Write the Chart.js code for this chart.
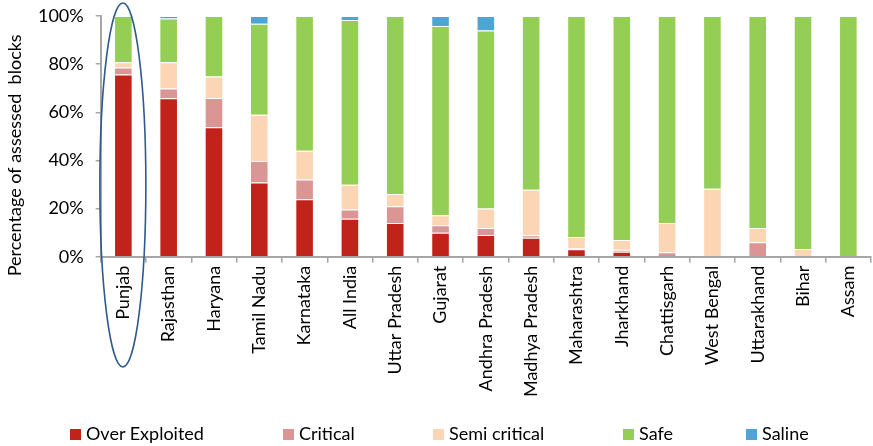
<!DOCTYPE html>
<html>
<head>
<meta charset="utf-8">
<script src="https://cdn.jsdelivr.net/npm/chart.js@4.4.1/dist/chart.umd.min.js"></script>
<style>
html,body{margin:0;padding:0;background:#fff;}
#wrap{width:873px;height:446px;position:relative;overflow:hidden;}
#legend{position:absolute;left:0;top:422px;width:873px;height:22px;font-family:Lato,'Open Sans',sans-serif;font-size:18px;color:#000;}
#legend .item{position:absolute;top:0;white-space:nowrap;line-height:22px;}
#legend .box{display:inline-block;width:11px;height:11px;margin-right:5px;vertical-align:0px;}
</style>
</head>
<body>
<div id="wrap"><canvas id="c" width="873" height="446"></canvas><div id="legend"></div></div>
<script>
const categories = ["Punjab","Rajasthan","Haryana","Tamil Nadu","Karnataka","All India","Uttar Pradesh","Gujarat","Andhra Pradesh","Madhya Pradesh","Maharashtra","Jharkhand","Chattisgarh","West Bengal","Uttarakhand","Bihar","Assam"];
const overExploited = [75.7,65.8,53.8,30.8,23.9,15.8,14.0,10.0,9.0,7.9,3.1,2.1,0.7,0,0,0,0];
const critical      = [2.9,4.1,12.1,9.0,8.2,3.8,7.0,3.1,2.9,1.0,0.3,0.8,1.2,0,6.0,0,0];
const semiCritical  = [2.2,10.9,9.0,19.2,11.9,10.3,5.0,4.1,8.1,18.9,4.8,4.0,12.1,28.2,5.9,3.2,0];
const safe          = [19.2,18.2,25.1,37.8,56.0,68.4,74.0,78.6,74.0,72.2,91.8,93.1,86.0,71.8,88.1,96.8,100];
const saline        = [0,1.0,0,3.2,0,1.7,0,4.2,6.0,0,0,0,0,0,0,0,0];
const seriesNames = ["Over Exploited","Critical","Semi critical","Safe","Saline"];
const seriesColors = ["#C0231A","#D99694","#FCD5B5","#94CE54","#4EA5D4"];
const yTicks = ["0%","20%","40%","60%","80%","100%"];
const yTitle = "Percentage of assessed  blocks";

const FONT = "Lato, 'Open Sans', sans-serif";
const AXIS = "#A6A6A6";

const ellipsePlugin = {
  id: 'ellipse',
  afterDraw(chart) {
    const x = chart.scales.x.getPixelForValue(0);
    const ctx = chart.ctx;
    ctx.save();
    ctx.strokeStyle = '#2F5A8E';
    ctx.lineWidth = 1.6;
    ctx.beginPath();
    ctx.ellipse(x - 0.5, 185, 23, 182, 0, 0, Math.PI * 2);
    ctx.stroke();
    ctx.restore();
  }
};

// y-axis title, drawn a little below the plot centre as in the original
const yTitlePlugin = {
  id: 'ytitle',
  afterDraw(chart) {
    const ctx = chart.ctx;
    const ca = chart.chartArea;
    ctx.save();
    ctx.translate(15, (ca.top + ca.bottom) / 2 + 19);
    ctx.rotate(-Math.PI / 2);
    ctx.fillStyle = '#000';
    ctx.font = "18px " + FONT;
    ctx.textAlign = 'center';
    ctx.textBaseline = 'middle';
    ctx.fillText(yTitle, 0, 0);
    ctx.restore();
  }
};

const seriesData = [overExploited, critical, semiCritical, safe, saline];
const datasets = seriesData.map((d, i) => ({
  label: seriesNames[i], data: d, backgroundColor: seriesColors[i],
  borderColor: 'rgba(255,255,255,0.45)', borderWidth: 1,
  barPercentage: 0.82, categoryPercentage: 0.5
}));

new Chart(document.getElementById('c'), {
  type: 'bar',
  data: {labels: categories, datasets},
  options: {
    responsive: false,
    animation: false,
    layout: {padding: {top: 3, right: 2, left: 0, bottom: 39}},
    plugins: {legend: {display: false}, tooltip: {enabled: false}},
    scales: {
      x: {
        stacked: true,
        grid: {display: true, drawOnChartArea: false, offset: true, color: AXIS, tickLength: 6, lineWidth: 1.5},
        border: {color: AXIS, width: 2},
        ticks: {maxRotation: 90, minRotation: 90, autoSkip: false, padding: 3, color: '#000', font: {family: FONT, size: 18}},
        afterFit(s) { s.height = 150.3; }
      },
      y: {
        stacked: true,
        min: 0, max: 100,
        grid: {display: true, drawOnChartArea: false, color: AXIS, tickLength: 5, lineWidth: 1.5},
        border: {color: AXIS, width: 2},
        ticks: {stepSize: 20, padding: 12, color: '#000', font: {family: FONT, size: 18},
                callback: (v, i) => yTicks[i]},
        title: {display: false},
        afterFit(s) { s.width = 100.7; s.paddingTop = 16; s.paddingBottom = 0; }
      }
    }
  },
  plugins: [ellipsePlugin, yTitlePlugin]
});

// HTML legend built from the series
const legendX = [70, 283, 433, 623, 746];
const lg = document.getElementById('legend');
seriesNames.forEach((n, i) => {
  const it = document.createElement('span');
  it.className = 'item';
  it.style.left = legendX[i] + 'px';
  const b = document.createElement('span');
  b.className = 'box';
  b.style.background = seriesColors[i];
  it.appendChild(b);
  it.appendChild(document.createTextNode(n));
  lg.appendChild(it);
});
</script>
</body>
</html>
